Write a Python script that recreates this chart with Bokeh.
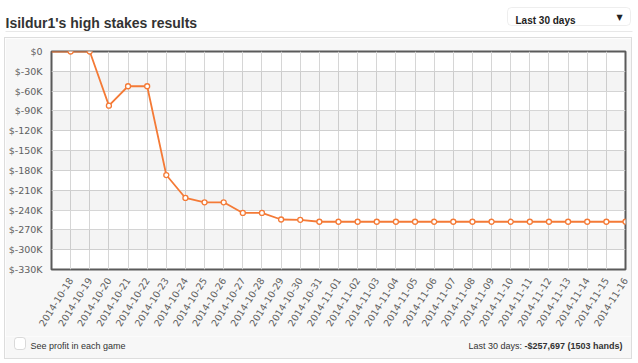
import math
from bokeh.plotting import figure
from bokeh.layouts import column, row
from bokeh.models import Range1d, FixedTicker, BoxAnnotation, Spacer
from bokeh.core.properties import value
from bokeh.embed import file_html
from bokeh.resources import INLINE

# ---- data ----
dates = ["2014-10-18", "2014-10-19", "2014-10-20", "2014-10-21", "2014-10-22",
         "2014-10-23", "2014-10-24", "2014-10-25", "2014-10-26", "2014-10-27",
         "2014-10-28", "2014-10-29", "2014-10-30", "2014-10-31", "2014-11-01",
         "2014-11-02", "2014-11-03", "2014-11-04", "2014-11-05", "2014-11-06",
         "2014-11-07", "2014-11-08", "2014-11-09", "2014-11-10", "2014-11-11",
         "2014-11-12", "2014-11-13", "2014-11-14", "2014-11-15", "2014-11-16"]
profit = [0, 0, -82000, -52600, -52600,
          -187000, -221700, -228300, -228300, -244400,
          -244400, -254300, -254800, -257697, -257697,
          -257697, -257697, -257697, -257697, -257697,
          -257697, -257697, -257697, -257697, -257697,
          -257697, -257697, -257697, -257697, -257697]
start_profit = 0
y_ticks = [0, -30000, -60000, -90000, -120000, -150000, -180000,
           -210000, -240000, -270000, -300000, -330000]
y_labels = ["$0", "$-30K", "$-60K", "$-90K", "$-120K", "$-150K", "$-180K",
            "$-210K", "$-240K", "$-270K", "$-300K", "$-330K"]
title_text = "Isildur1's high stakes results"
period_text = "Last 30 days"
checkbox_text = "See profit in each game"
summary_label = "Last 30 days: "
summary_value = "-$257,697 (1503 hands)"

W, H = 638, 363
HEAD_H = 38
PANEL_L, PANEL_R, PANEL_B = 5, 631, 358
FOOT_H = 22
MAIN_H = PANEL_B - HEAD_H - FOOT_H
FL, FR, FT, FB = 48, 625, 51, 269  # frame edges in canvas pixels
SANS = "Liberation Sans"
ORANGE = "#f47a36"

idx = list(range(len(dates)))


def flat_fig(w, h, x0, x1, y0, y1, bg):
    f = figure(width=w, height=h, x_range=Range1d(x0, x1), y_range=Range1d(y1, y0),
               x_axis_location=None, y_axis_location=None,
               output_backend="svg", toolbar_location=None,
               min_border=0, outline_line_color=None, frame_align=False,
               background_fill_color=bg, border_fill_color=bg)
    f.grid.visible = False
    return f


# ---- header ----
head = flat_fig(W, HEAD_H, 0, W, 0, HEAD_H, "white")
head.add_layout(BoxAnnotation(left=507, right=630, top=7, bottom=25, fill_color="white",
                              fill_alpha=1, line_color="#c8c8c8", line_width=1,
                              border_radius=4, level="underlay"))
head.text(x=[5], y=[22.7], text=[title_text], text_font=value(SANS), text_font_size="14px",
          text_font_style="bold", text_color="#333333", text_baseline="alphabetic")
head.segment(x0=[5], y0=[31], x1=[632], y1=[31], line_color="#e8e8e8", line_width=1)
head.text(x=[515], y=[19.8], text=[period_text], text_font=value(SANS), text_font_size="10px",
          text_font_style="bold", text_color="#222222", text_baseline="alphabetic")
head.text(x=[616], y=[16.5], text=["\u25BC"], text_font=value("DejaVu Sans"), text_font_size="8px",
          text_color="#222222", text_baseline="middle")

# ---- main chart ----
p = figure(width=PANEL_R - PANEL_L, height=MAIN_H,
           x_range=Range1d(-1, len(dates) - 1),
           y_range=Range1d(y_ticks[-1], y_ticks[0]),
           output_backend="svg", toolbar_location=None, frame_align=False,
           min_border_left=FL - PANEL_L, min_border_right=PANEL_R - FR,
           min_border_top=FT - HEAD_H, min_border_bottom=HEAD_H + MAIN_H - FB,
           border_fill_color="#f7f7f7", background_fill_color="white",
           outline_line_color="#5a5a5a", outline_line_width=2)

p.xaxis.ticker = FixedTicker(ticks=idx)
p.xaxis.major_label_overrides = {i: d for i, d in zip(idx, dates)}
p.xaxis.major_label_orientation = math.radians(58)
p.yaxis.ticker = FixedTicker(ticks=y_ticks)
p.yaxis.major_label_overrides = {t: l for t, l in zip(y_ticks, y_labels)}
for ax in (p.xaxis, p.yaxis):
    ax.axis_line_color = None
    ax.major_tick_line_color = None
    ax.minor_tick_line_color = None
    ax.major_label_text_font = "DejaVu Sans"
    ax.major_label_text_font_size = "9.5px"
    ax.major_label_text_color = "#606060"
    ax.major_label_standoff = 3

p.xgrid.grid_line_color = "#d6d6d6"
p.ygrid.grid_line_color = "#d6d6d6"

# alternating bands between every other pair of y ticks
band_c = [(y_ticks[i] + y_ticks[i + 1]) / 2 for i in range(1, len(y_ticks) - 1, 2)]
band_h = abs(y_ticks[1] - y_ticks[0])
p.hbar(y=band_c, height=band_h, left=-1, right=len(dates) - 1,
       fill_color="black", fill_alpha=0.045, line_color=None)

p.line([-1] + idx, [start_profit] + profit, line_color=ORANGE, line_width=1.8)
p.scatter(idx, profit, size=5, fill_color="white", line_color=ORANGE, line_width=1.3)

# ---- footer ----
foot = flat_fig(PANEL_R - PANEL_L, FOOT_H, PANEL_L, PANEL_R, PANEL_B - FOOT_H, PANEL_B, "#f7f7f7")
foot.add_layout(BoxAnnotation(left=14, right=25, top=337, bottom=349, fill_color="white",
                              fill_alpha=1, line_color="#8c8c8c", line_width=1,
                              border_radius=3, level="underlay"))
foot.text(x=[30], y=[345.4], text=[checkbox_text], text_font=value(SANS), text_font_size="9px",
          text_color="#333333", text_baseline="alphabetic")
foot.text(x=[622], y=[345.4], text=[summary_value], text_font=value(SANS), text_font_size="9px",
          text_font_style="bold", text_color="#333333", text_baseline="alphabetic",
          text_align="right")
foot.text(x=[524], y=[345.4], text=[summary_label], text_font=value(SANS), text_font_size="9px",
          text_color="#333333", text_baseline="alphabetic", text_align="right")

panel = column(p, foot, spacing=0, styles={"box-shadow": "0 0 0 1px #dddddd"})
body = row(Spacer(width=PANEL_L, height=PANEL_B - HEAD_H), panel,
           Spacer(width=W - PANEL_R, height=PANEL_B - HEAD_H), spacing=0)
layout = column(head, body, spacing=0)

open("out.html", "w").write(file_html(layout, INLINE))
